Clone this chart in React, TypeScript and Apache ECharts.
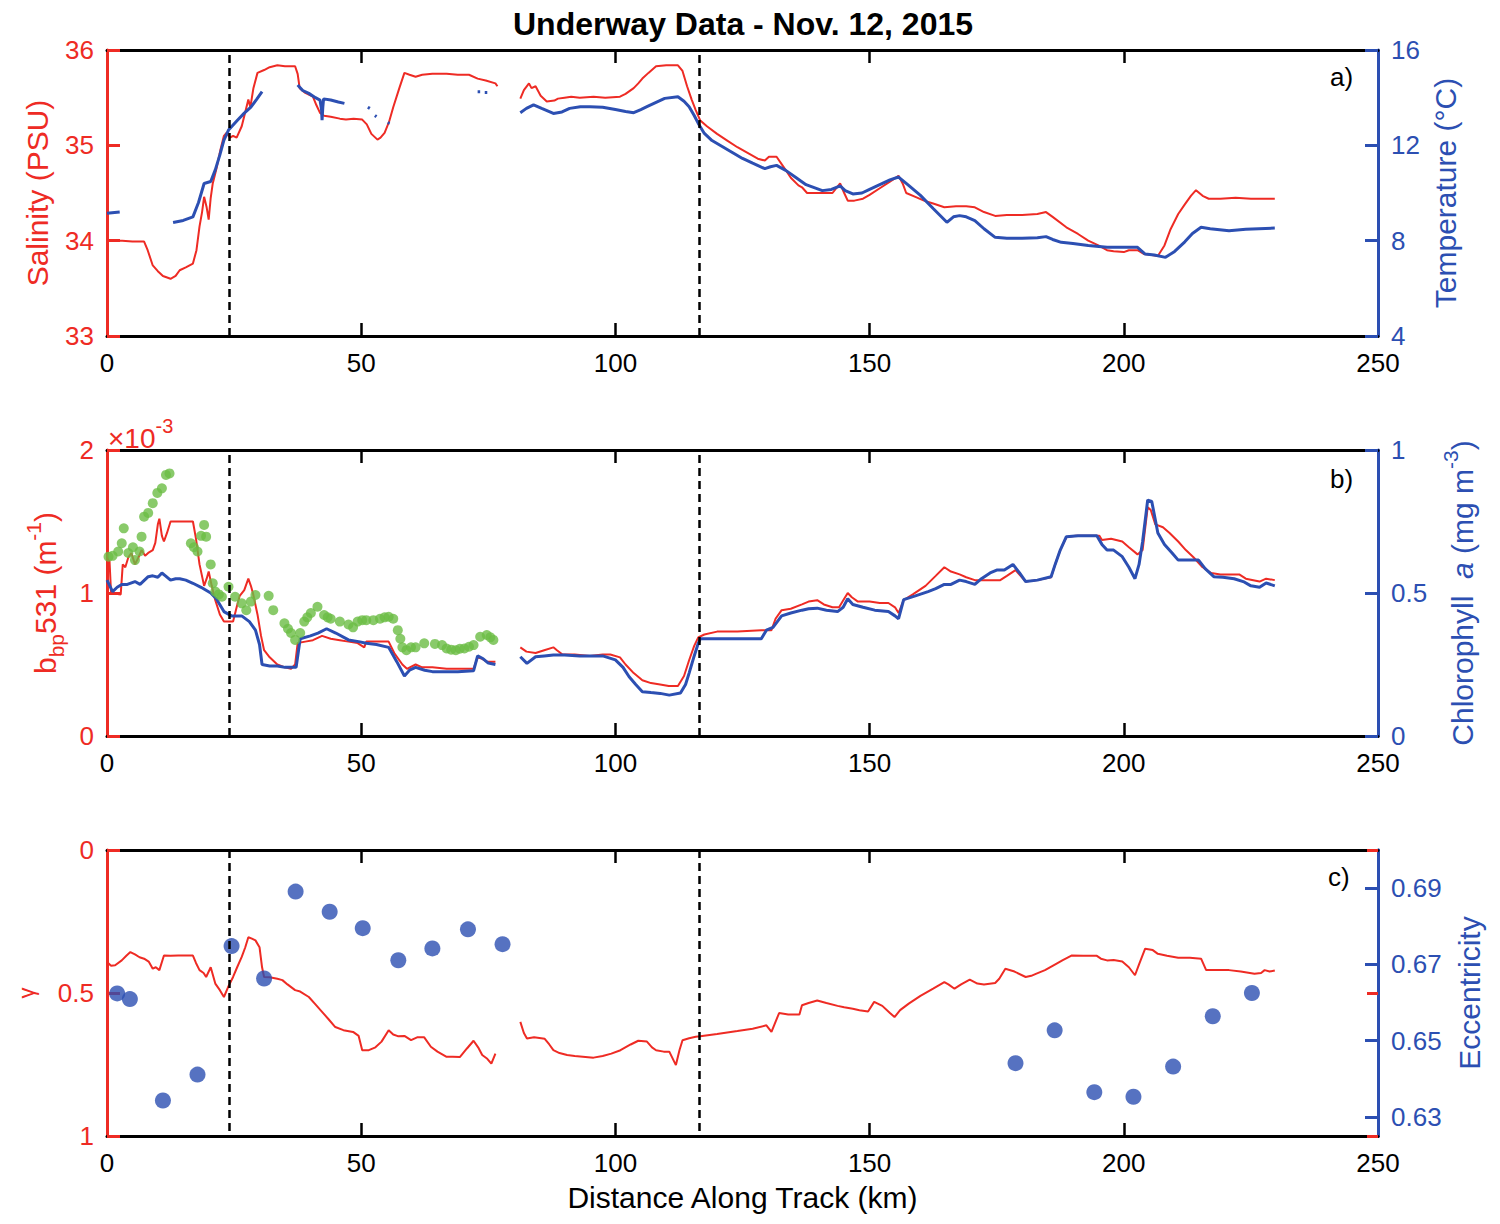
import React, { useEffect, useRef } from "react";
import * as echarts from "echarts";

type P = [number, number] | null;

const FONT = "'Liberation Sans', Arial, Helvetica, sans-serif";
const RED = "#ee2b24";
const BLUE = "#2c4fb2";
const GREEN = "#6cbd45";

const TITLE = "Underway Data - Nov. 12, 2015";
const X_TICKS = [0, 50, 100, 150, 200, 250];
const X_INNER_TICKS = [50, 100, 150, 200];
const SECTION_LINES = [24, 116.5];
const ECC_TICKS = [0.63, 0.65, 0.67, 0.69];
const GAMMA_TICKS = [0, 0.5, 1];

// Panel a: salinity (PSU)
const salinity: P[] = [
  [0, 34.01], [1, 34.0], [3, 34.0], [5, 33.99], [7.3, 33.99], [8, 33.9], [9, 33.74], [10, 33.68], [11, 33.63],
  [12.5, 33.6], [13.5, 33.63], [14.3, 33.69], [15.5, 33.72], [16.9, 33.76], [17.6, 33.9], [18.2, 34.15], [18.7, 34.3],
  [19.1, 34.46], [19.6, 34.35], [20, 34.22], [20.4, 34.45], [20.8, 34.6], [21.5, 34.75], [22.3, 34.95], [23, 35.1],
  [23.5, 35.13], [24.2, 35.08], [24.8, 35.1], [25.5, 35.08], [26.5, 35.2], [27.2, 35.35], [27.8, 35.48], [28.2, 35.4],
  [28.8, 35.6], [29.6, 35.76], [30.9, 35.79], [32, 35.82], [33.5, 35.84], [35, 35.83], [37, 35.83], [37.5, 35.75],
  [37.9, 35.6], [39, 35.55], [40.5, 35.51], [41.2, 35.42], [41.9, 35.34], [42.7, 35.31], [44, 35.3], [45.8, 35.28],
  [47, 35.27], [48.5, 35.28], [50.2, 35.27], [51.1, 35.22], [52, 35.12], [53.2, 35.06], [53.8, 35.08], [54.6, 35.13],
  [55.5, 35.25], [56.3, 35.4], [57.5, 35.6], [58.5, 35.76], [59.5, 35.74], [60.7, 35.72], [62, 35.74], [64, 35.75],
  [66.8, 35.75], [69, 35.74], [71.2, 35.74], [72.9, 35.7], [74.5, 35.68], [76.4, 35.65], [76.8, 35.62],
  null,
  [81.3, 35.49], [82, 35.58], [83, 35.65], [83.5, 35.6], [84.3, 35.62], [85.3, 35.52], [86.5, 35.46], [88, 35.47],
  [88.7, 35.49], [90, 35.5], [91.3, 35.51], [93, 35.5], [95.7, 35.51], [98, 35.5], [100.9, 35.51], [102, 35.54],
  [103.6, 35.6], [104.5, 35.65], [105.3, 35.7], [106.5, 35.76], [108, 35.83], [110, 35.84], [112.3, 35.84],
  [113.2, 35.78], [114.1, 35.62], [115, 35.48], [115.8, 35.37], [116.7, 35.26], [118, 35.2], [120, 35.12],
  [122, 35.05], [124, 34.98], [126, 34.92], [128, 34.86], [129.4, 34.84], [130.2, 34.88], [131.7, 34.88],
  [133, 34.78], [134.5, 34.66], [136, 34.58], [136.7, 34.56], [137.7, 34.5], [140, 34.5], [142.7, 34.5],
  [144.2, 34.6], [145, 34.5], [145.7, 34.42], [147, 34.42], [148.7, 34.44], [150, 34.48], [152, 34.55],
  [154, 34.62], [155.7, 34.68], [156.5, 34.6], [157.2, 34.5], [159, 34.46], [160.7, 34.42], [162.5, 34.39],
  [164.7, 34.35], [167, 34.36], [169, 34.36], [170.7, 34.35], [172.5, 34.3], [174.7, 34.26], [177, 34.27],
  [180, 34.27], [183, 34.28], [184.7, 34.3], [186, 34.25], [188.7, 34.14], [191, 34.07], [193, 34.0],
  [195, 33.95], [196.7, 33.9], [198, 33.89], [200, 33.88], [201, 33.9], [202.7, 33.9], [204, 33.86],
  [205.5, 33.85], [206.7, 33.84], [208, 33.95], [209.2, 34.12], [210.7, 34.28], [212, 34.38], [213.2, 34.47],
  [214.2, 34.53], [215.5, 34.47], [216.7, 34.44], [219, 34.44], [222, 34.45], [225, 34.44], [229.7, 34.44],
];

// Panel a: temperature (°C)
const temperature: P[] = [
  [0, 9.15], [1.5, 9.18], [2.5, 9.2],
  null,
  [13, 8.76], [15, 8.85], [16.9, 9.0], [18, 9.6], [19.1, 10.4], [20.4, 10.48], [21.3, 10.97], [22.2, 11.6],
  [23, 12.22], [23.9, 12.64], [24.8, 12.85], [25.7, 13.06], [27, 13.35], [28.3, 13.6], [29.5, 13.95], [30.5, 14.25],
  null,
  [37.5, 14.53], [38.5, 14.3], [39.7, 14.18], [41, 14.0], [41.9, 13.9], [42.2, 13.5], [42.3, 13.06], [42.45, 13.6],
  [42.6, 13.95], [44, 13.9], [45.5, 13.82], [46.7, 13.76],
  null,
  [51.3, 13.6], [51.7, 13.55],
  null,
  [52.7, 13.25], [53.0, 13.2],
  null,
  [55.2, 12.95], [55.6, 12.92],
  null,
  [72.9, 14.25], [73.4, 14.25],
  null,
  [74.3, 14.22], [74.8, 14.22],
  null,
  [81.3, 13.37], [82.5, 13.55], [83.9, 13.7], [85.5, 13.55], [87.8, 13.34], [89.5, 13.4], [91, 13.55],
  [93.1, 13.62], [95, 13.62], [97.5, 13.6], [100, 13.5], [102, 13.42], [103.6, 13.37], [105, 13.5],
  [106.2, 13.62], [108, 13.8], [109.7, 13.97], [112.3, 14.04], [113.5, 13.85], [114.5, 13.62], [115.5, 13.25],
  [116.3, 12.92], [117.5, 12.5], [119, 12.2], [121, 11.95], [123, 11.7], [125, 11.45], [127, 11.25],
  [129.4, 11.02], [130.5, 11.1], [131.7, 11.16], [133.5, 10.95], [135.5, 10.65], [137.5, 10.35], [140.7, 10.1],
  [142.5, 10.15], [144.2, 10.3], [145.2, 10.1], [146.7, 9.96], [148.5, 10.0], [150, 10.15], [152, 10.35],
  [154, 10.55], [155.7, 10.67], [157.5, 10.35], [160, 9.9], [162.5, 9.35], [165.2, 8.77], [166.5, 9.0],
  [167.7, 9.05], [169, 9.0], [170.7, 8.84], [172.5, 8.5], [174.7, 8.14], [177, 8.1], [180, 8.1], [183, 8.12],
  [184.7, 8.17], [186, 8.05], [187.7, 7.93], [190, 7.88], [193, 7.8], [196.7, 7.72], [199, 7.72],
  [202.7, 7.72], [204.2, 7.44], [206, 7.4], [208.2, 7.3], [210, 7.55], [212, 7.95], [213.5, 8.3],
  [215.2, 8.56], [217, 8.5], [220.7, 8.42], [224, 8.48], [229.7, 8.53],
];

// Panel b: bbp531 (m^-1), stored in units of 1e-3
const bbp: P[] = [
  [0, 1.25], [0.5, 1.22], [0.8, 1.0], [2.7, 0.99], [3.1, 1.2], [3.6, 1.18], [4.2, 1.25], [4.8, 1.28], [5.5, 1.2],
  [6.2, 1.25], [6.8, 1.3], [7.5, 1.26], [8.1, 1.28], [9, 1.3], [9.5, 1.35], [10, 1.48], [10.3, 1.52], [10.8, 1.4],
  [11.2, 1.36], [11.8, 1.42], [12.5, 1.5], [14, 1.5], [16.9, 1.5], [17.5, 1.38], [18.2, 1.2], [19.1, 1.05],
  [19.6, 1.1], [20, 1.15], [20.6, 1.05], [21.3, 0.95], [22.2, 0.85], [23, 0.8], [24.8, 0.8], [25.5, 0.9],
  [26.1, 0.98], [27, 1.02], [27.8, 1.1], [28.3, 1.05], [28.7, 1.0], [29.6, 0.85], [30.3, 0.7], [30.9, 0.6],
  [32, 0.55], [33.5, 0.5], [35, 0.48], [36.2, 0.47], [37, 0.5], [37.5, 0.65], [39, 0.66], [40.5, 0.67],
  [42.3, 0.7], [44, 0.68], [45.8, 0.67], [47.5, 0.66], [49.3, 0.65], [50.6, 0.62], [51, 0.66], [53, 0.66],
  [55.4, 0.66], [56.5, 0.58], [58.1, 0.5], [59, 0.47], [60.7, 0.5], [62, 0.48], [64, 0.48], [66.8, 0.47],
  [69, 0.47], [72.1, 0.47], [72.9, 0.55], [73.8, 0.54], [74.7, 0.52], [76.4, 0.52],
  null,
  [81.3, 0.62], [82.5, 0.59], [84.3, 0.58], [86, 0.6], [87.8, 0.62], [88.5, 0.6], [89.6, 0.57], [92, 0.57],
  [95, 0.56], [97.5, 0.57], [99, 0.57], [100.9, 0.55], [102, 0.5], [103.6, 0.44], [105.3, 0.39], [107, 0.37],
  [108.8, 0.36], [110.5, 0.35], [112.3, 0.35], [113.5, 0.42], [114.5, 0.53], [115.5, 0.63], [116.3, 0.69],
  [117.5, 0.71], [120, 0.73], [124, 0.73], [128.7, 0.74], [130.7, 0.74], [131.5, 0.82], [132.7, 0.88],
  [134.5, 0.89], [136.7, 0.92], [138, 0.94], [139.7, 0.95], [141, 0.92], [142.7, 0.9], [144, 0.9], [145, 0.96],
  [145.7, 1.0], [146.5, 0.97], [147.7, 0.94], [150, 0.94], [152, 0.93], [153.7, 0.93], [155, 0.9],
  [155.7, 0.86], [156.7, 0.95], [158.5, 0.99], [161, 1.05], [163, 1.12], [164.7, 1.18], [166, 1.15],
  [167.7, 1.13], [169, 1.11], [170.7, 1.09], [173, 1.09], [175.7, 1.09], [177, 1.12], [178.7, 1.16],
  [179.7, 1.12], [180.7, 1.08], [183, 1.09], [185.7, 1.11], [186.5, 1.2], [187.5, 1.3], [188.7, 1.39],
  [190.5, 1.4], [192.7, 1.4], [195.2, 1.4], [195.7, 1.37], [197.5, 1.38], [199.7, 1.36], [201, 1.32],
  [202.7, 1.27], [203.7, 1.3], [204.7, 1.6], [205.3, 1.58], [206.2, 1.48], [207.7, 1.46], [209, 1.42],
  [210.7, 1.36], [212.2, 1.3], [213.7, 1.25], [215.5, 1.18], [217.2, 1.14], [219, 1.13], [222.7, 1.13],
  [224, 1.1], [226.7, 1.08], [228, 1.1], [229.7, 1.09],
];

// Panel b: chlorophyll a (mg m^-3)
const chlorophyll: P[] = [
  [0, 0.545], [1.1, 0.505], [2, 0.52], [2.9, 0.53], [4, 0.53], [5.5, 0.54], [6.5, 0.53], [8.1, 0.557], [9, 0.56],
  [10, 0.555], [10.8, 0.57], [11.5, 0.56], [12.5, 0.545], [13.5, 0.55], [14.3, 0.55], [15.5, 0.545],
  [16.9, 0.534], [18.5, 0.52], [20.4, 0.5], [21.5, 0.48], [23, 0.435], [24.5, 0.42], [26.5, 0.42], [28, 0.4],
  [29.2, 0.37], [30, 0.32], [30.5, 0.25], [32, 0.245], [33.5, 0.245], [35, 0.24], [37.2, 0.24], [38, 0.34],
  [40, 0.35], [41.5, 0.36], [43.2, 0.375], [45, 0.36], [47.5, 0.336], [49.5, 0.33], [51, 0.324], [53, 0.32],
  [55.4, 0.31], [57, 0.26], [58.5, 0.21], [59.5, 0.23], [60.7, 0.24], [62.5, 0.23], [64, 0.225], [66.8, 0.225],
  [69, 0.225], [72.1, 0.228], [72.9, 0.28], [74, 0.27], [75, 0.255], [76.4, 0.25],
  null,
  [81.3, 0.277], [82.6, 0.254], [84.3, 0.277], [86, 0.28], [87.8, 0.283], [90, 0.283], [93, 0.28], [95, 0.28],
  [97.5, 0.28], [100, 0.266], [101.5, 0.24], [102.7, 0.207], [104, 0.18], [105.3, 0.155], [107, 0.152],
  [108.8, 0.149], [110.6, 0.143], [112.8, 0.15], [113.8, 0.18], [114.5, 0.22], [115.5, 0.28], [116.3, 0.324],
  [116.7, 0.34], [120, 0.34], [124, 0.34], [128.7, 0.34], [129.7, 0.37], [131, 0.38], [132.7, 0.42],
  [134.5, 0.43], [136.7, 0.44], [138, 0.445], [139.7, 0.447], [141.5, 0.44], [143.7, 0.435], [144.8, 0.45],
  [145.7, 0.48], [146.7, 0.46], [148.7, 0.45], [151, 0.44], [153.7, 0.435], [155, 0.42], [155.7, 0.41],
  [156.7, 0.477], [159, 0.49], [161.5, 0.505], [163, 0.515], [164.7, 0.53], [166, 0.53], [167.7, 0.545],
  [169, 0.54], [170.7, 0.53], [172, 0.55], [173.7, 0.57], [175, 0.58], [176.5, 0.58], [178.2, 0.6],
  [179.5, 0.57], [180.7, 0.54], [183, 0.545], [185.7, 0.557], [186.5, 0.6], [187.5, 0.65], [188.7, 0.697],
  [191, 0.7], [194.7, 0.7], [195.7, 0.67], [196.7, 0.65], [198, 0.65], [199.7, 0.627], [201, 0.59],
  [202.2, 0.55], [203, 0.6], [203.7, 0.68], [204.7, 0.825], [205.5, 0.82], [206.7, 0.71], [208, 0.67],
  [209.5, 0.64], [210.7, 0.615], [212.5, 0.615], [214.7, 0.615], [216, 0.585], [217.7, 0.557], [219.5, 0.555],
  [221.7, 0.55], [223.5, 0.54], [225, 0.525], [226.7, 0.52], [228, 0.535], [229.7, 0.525],
];

// Panel b: green discrete samples (chlorophyll axis)
const greenSamples: [number, number][] = [
  [0.3, 0.627], [1.1, 0.63], [2.2, 0.645], [2.9, 0.674], [3.3, 0.726], [4.2, 0.64], [5.1, 0.66], [5.5, 0.615],
  [6.4, 0.645], [6.8, 0.697], [7.3, 0.767], [8.1, 0.78], [9, 0.814], [9.9, 0.85], [10.8, 0.866], [11.6, 0.913],
  [12.3, 0.918], [16.5, 0.674], [17.1, 0.66], [17.8, 0.645], [18.5, 0.7], [19.1, 0.738], [19.5, 0.697],
  [20.4, 0.6], [20.8, 0.534], [21.3, 0.505], [22, 0.495], [22.6, 0.487], [23.9, 0.522], [25.2, 0.487],
  [26.5, 0.464], [27.4, 0.44], [28.3, 0.47], [29.2, 0.493], [31.8, 0.49], [32.7, 0.44], [34.9, 0.394],
  [35.6, 0.375], [36.2, 0.36], [37, 0.336], [38, 0.36], [38.8, 0.4], [39.4, 0.415], [40.1, 0.43],
  [41.4, 0.452], [42.7, 0.423], [43.4, 0.415], [44, 0.41], [45.8, 0.4], [47.5, 0.39], [48.4, 0.38],
  [49.3, 0.4], [50.2, 0.405], [51, 0.405], [52.4, 0.405], [53.7, 0.41], [54.6, 0.415], [55.4, 0.417],
  [56.3, 0.41], [57.2, 0.37], [57.7, 0.34], [58.1, 0.31], [58.9, 0.3], [59.8, 0.31], [60.7, 0.31],
  [62.4, 0.324], [64.5, 0.322], [65.9, 0.318], [66.8, 0.306], [67.7, 0.302], [68.6, 0.3], [69.4, 0.305],
  [70.3, 0.306], [71.2, 0.312], [72.1, 0.318], [73.4, 0.347], [74.7, 0.353], [75.4, 0.345], [76, 0.336],
];

// Panel c: gamma (inverted axis)
const gamma: P[] = [
  [0, 0.392], [0.8, 0.405], [1.6, 0.403], [2.9, 0.386], [3.8, 0.37], [4.6, 0.357], [5.5, 0.365], [6.4, 0.375],
  [7.3, 0.38], [8.2, 0.39], [9, 0.415], [9.6, 0.41], [10.3, 0.42], [11.2, 0.369], [12.5, 0.37], [14, 0.369],
  [15.5, 0.369], [16.9, 0.369], [17.5, 0.395], [18.2, 0.42], [19, 0.43], [19.5, 0.444], [20.4, 0.41],
  [21.3, 0.467], [22.2, 0.49], [23, 0.514], [23.8, 0.48], [24.8, 0.444], [25.6, 0.41], [26.5, 0.374],
  [27.2, 0.34], [27.8, 0.305], [28.5, 0.31], [29.2, 0.316], [30, 0.34], [30.5, 0.41], [30.9, 0.444],
  [32, 0.445], [33.5, 0.45], [34.5, 0.455], [35.5, 0.47], [37, 0.49], [38, 0.495], [39.7, 0.514], [41, 0.54],
  [42.3, 0.566], [43.5, 0.59], [44.9, 0.619], [46.5, 0.63], [48.4, 0.636], [49.5, 0.65], [50.2, 0.7],
  [51.5, 0.7], [52.8, 0.69], [54, 0.67], [55.4, 0.63], [56.3, 0.645], [57.2, 0.651], [58.5, 0.65],
  [59.8, 0.665], [61, 0.655], [62.4, 0.655], [63.7, 0.688], [65, 0.705], [66.8, 0.723], [68, 0.723],
  [69.4, 0.724], [70.8, 0.694], [72.1, 0.667], [73, 0.69], [73.8, 0.717], [74.8, 0.73], [75.6, 0.747],
  [76.4, 0.712],
  null,
  [81.3, 0.601], [82, 0.64], [82.6, 0.659], [84, 0.655], [86.1, 0.66], [87, 0.68], [87.8, 0.7], [89, 0.71],
  [90.5, 0.717], [92, 0.72], [95.7, 0.726], [97.5, 0.72], [99.2, 0.712], [101, 0.7], [103, 0.68],
  [104.5, 0.667], [106.2, 0.67], [107.2, 0.69], [108, 0.7], [109.5, 0.705], [110.6, 0.705], [111.9, 0.752],
  [112.6, 0.7], [113.2, 0.665], [114.5, 0.658], [115.8, 0.653], [116.7, 0.651], [120, 0.643], [124, 0.633],
  [127, 0.625], [129.7, 0.613], [130.7, 0.636], [132.2, 0.57], [134, 0.575], [136.2, 0.575], [136.7, 0.543],
  [138, 0.535], [139.7, 0.526], [141.5, 0.535], [143.7, 0.545], [145, 0.55], [146.7, 0.555], [148, 0.56],
  [149.7, 0.565], [150.9, 0.531], [152.5, 0.545], [154, 0.57], [154.9, 0.584], [156, 0.56], [157.7, 0.537],
  [160, 0.51], [162.5, 0.485], [164.7, 0.462], [165.5, 0.47], [166.7, 0.485], [168, 0.47], [169.7, 0.453],
  [171.2, 0.467], [172.5, 0.47], [174.7, 0.465], [175.5, 0.45], [176.7, 0.415], [178.5, 0.425],
  [180.7, 0.444], [181.8, 0.44], [182.7, 0.433], [184.5, 0.42], [186.7, 0.398], [188, 0.385], [189.7, 0.369],
  [192, 0.37], [194.7, 0.37], [195.5, 0.38], [196.7, 0.386], [198, 0.385], [199.7, 0.39], [201, 0.41],
  [202.2, 0.438], [203, 0.4], [204.2, 0.345], [205.7, 0.35], [206.7, 0.363], [208.5, 0.37], [210.7, 0.377],
  [213, 0.377], [215.2, 0.38], [216.2, 0.42], [218, 0.42], [220.7, 0.42], [223, 0.425], [225.7, 0.433],
  [227, 0.43], [227.7, 0.42], [228.7, 0.425], [229.7, 0.421],
];

// Panel c: eccentricity
const eccentricity: [number, number][] = [
  [2, 0.6624], [4.5, 0.6609], [11, 0.6343], [17.8, 0.6411], [24.5, 0.6748], [30.9, 0.6663], [37.1, 0.6891],
  [43.8, 0.6838], [50.3, 0.6795], [57.3, 0.6711], [64, 0.6742], [71, 0.6792], [77.8, 0.6753],
  [178.7, 0.6441], [186.4, 0.6527], [194.2, 0.6365], [201.9, 0.6353], [209.7, 0.6432], [217.5, 0.6564],
  [225.2, 0.6625],
];

function splitSegments(data: P[]): [number, number][][] {
  const out: [number, number][][] = [];
  let cur: [number, number][] = [];
  for (const p of data) {
    if (p === null) {
      if (cur.length) out.push(cur);
      cur = [];
    } else cur.push(p);
  }
  if (cur.length) out.push(cur);
  return out;
}

const GRID_TOPS = [50, 450, 850];
const GRID_H = 286;
const GRID_LEFT = 107;
const GRID_RIGHT = 122;

function xAxes(g: number, last: boolean): any[] {
  const common = {
    type: "value",
    gridIndex: g,
    min: X_TICKS[0],
    max: X_TICKS[X_TICKS.length - 1],
    interval: 50,
    splitLine: { show: false },
    axisLine: { show: true, onZero: false, lineStyle: { color: "#000", width: 3 } },
    axisTick: { show: true, inside: true, length: 13, customValues: X_INNER_TICKS, lineStyle: { color: "#000", width: 2.5 } },
  };
  return [
    {
      ...common,
      position: "bottom",
      axisLabel: { show: true, fontSize: 26, color: "#000", margin: 14, fontFamily: FONT },
      name: last ? "Distance Along Track (km)" : "",
      nameLocation: "middle",
      nameGap: 46,
      nameTextStyle: { fontSize: 30, color: "#000", fontFamily: FONT },
    },
    { ...common, position: "top", axisLabel: { show: false } },
  ];
}

function yAxis(g: number, pos: "left" | "right", color: string, extra: any): any {
  return {
    type: "value",
    gridIndex: g,
    position: pos,
    splitLine: { show: false },
    axisLine: { show: true, onZero: false, lineStyle: { color, width: 3 } },
    axisTick: { show: true, inside: true, length: 13, lineStyle: { color, width: 3 } },
    axisLabel: { color, fontSize: 26, margin: 13, fontFamily: FONT },
    nameLocation: "middle",
    nameTextStyle: { color, fontSize: 30, fontFamily: FONT },
    ...extra,
  };
}

function lineSeries(data: P[], xi: number, yi: number, color: string, width: number, name: string, z: number, withMarks: boolean): any[] {
  return splitSegments(data).map((seg, k) => {
    const s: any = {
      type: "line",
      name,
      xAxisIndex: xi,
      yAxisIndex: yi,
      data: seg,
      symbol: "none",
      showSymbol: false,
      silent: true,
      z,
      lineStyle: { color, width },
      itemStyle: { color },
    };
    if (withMarks && k === 0) {
      s.markLine = {
        silent: true,
        symbol: ["none", "none"],
        label: { show: false },
        lineStyle: { color: "#000", width: 2.5, type: [8, 5] },
        data: SECTION_LINES.map((v) => ({ xAxis: v })),
      };
    }
    return s;
  });
}

function buildOption(): any {
  const grids = GRID_TOPS.map((t) => ({ left: GRID_LEFT, right: GRID_RIGHT, top: t, height: GRID_H, containLabel: false }));
  const xs = [...xAxes(0, false), ...xAxes(1, false), ...xAxes(2, true)];
  const ys = [
    yAxis(0, "left", RED, { min: 33, max: 36, interval: 1, name: "Salinity (PSU)", nameGap: 55 }),
    yAxis(0, "right", BLUE, { min: 4, max: 16, interval: 4, name: "Temperature (°C)", nameGap: 48 }),
    yAxis(1, "left", RED, {
      min: 0,
      max: 0.002,
      interval: 0.001,
      axisLabel: { color: RED, fontSize: 26, margin: 13, fontFamily: FONT, formatter: (v: number) => String(Math.round(v * 1000)) },
      name: "{m|b}{sub|bp}{m|531 (m}{sup|-1}{m|)}",
      nameGap: 40,
      nameTextStyle: {
        color: RED,
        fontFamily: FONT,
        rich: {
          m: { fontSize: 30, color: RED, fontFamily: FONT, lineHeight: 44 },
          sub: { fontSize: 21, color: RED, fontFamily: FONT, lineHeight: 44, verticalAlign: "bottom" },
          sup: { fontSize: 21, color: RED, fontFamily: FONT, lineHeight: 44, verticalAlign: "top" },
        },
      },
    }),
    yAxis(1, "right", BLUE, {
      min: 0,
      max: 1,
      interval: 0.5,
      name: "{m|Chlorophyll  }{i|a}{m| (mg m}{sup|-3}{m|)}",
      nameGap: 62,
      nameTextStyle: {
        color: BLUE,
        fontFamily: FONT,
        rich: {
          m: { fontSize: 30, color: BLUE, fontFamily: FONT, lineHeight: 44 },
          i: { fontSize: 30, color: BLUE, fontFamily: FONT, fontStyle: "italic", lineHeight: 44 },
          sup: { fontSize: 21, color: BLUE, fontFamily: FONT, lineHeight: 44, verticalAlign: "top" },
        },
      },
    }),
    yAxis(2, "left", RED, { min: 0, max: 1, interval: 0.5, inverse: true, name: "γ", nameGap: 70, nameTextStyle: { color: RED, fontSize: 22, fontFamily: FONT } }),
    yAxis(2, "right", BLUE, {
      min: 0.625,
      max: 0.7,
      axisTick: { show: true, inside: true, length: 13, customValues: ECC_TICKS, lineStyle: { color: BLUE, width: 3 } },
      axisLabel: { color: BLUE, fontSize: 26, margin: 13, fontFamily: FONT, customValues: ECC_TICKS, formatter: (v: number) => v.toFixed(2) },
      name: "Eccentricity",
      nameGap: 76,
    }),
    {
      type: "value",
      gridIndex: 2,
      position: "right",
      min: 0,
      max: 1,
      interval: 0.5,
      inverse: true,
      splitLine: { show: false },
      axisLine: { show: true, onZero: false, lineStyle: { color: BLUE, width: 3 } },
      axisLabel: { show: false },
      axisTick: { show: true, inside: true, length: 11, customValues: GAMMA_TICKS, lineStyle: { color: RED, width: 3 } },
    },
  ];

  const bbpValues: P[] = bbp.map((p) => (p === null ? null : [p[0], p[1] / 1000]));

  const series: any[] = [
    ...lineSeries(salinity, 0, 0, RED, 2, "Salinity", 2, true),
    ...lineSeries(temperature, 0, 1, BLUE, 3, "Temperature", 3, false),
    ...lineSeries(bbpValues, 2, 2, RED, 2, "bbp531", 2, true),
    ...lineSeries(chlorophyll, 2, 3, BLUE, 3, "Chlorophyll a", 3, false),
    {
      type: "scatter",
      name: "Chlorophyll samples",
      xAxisIndex: 2,
      yAxisIndex: 3,
      data: greenSamples,
      symbol: "circle",
      symbolSize: 10,
      silent: true,
      z: 4,
      itemStyle: { color: GREEN },
    },
    ...lineSeries(gamma, 4, 4, RED, 2, "gamma", 2, true),
    {
      type: "scatter",
      name: "Eccentricity",
      xAxisIndex: 4,
      yAxisIndex: 5,
      data: eccentricity,
      symbol: "circle",
      symbolSize: 16,
      silent: true,
      z: 4,
      itemStyle: { color: BLUE },
    },
    {
      type: "line",
      name: "gamma-right",
      xAxisIndex: 4,
      yAxisIndex: 6,
      data: [],
      symbol: "none",
      silent: true,
    },
  ];

  const panelLabel = (t: string, x: number, y: number) => ({
    type: "text",
    x,
    y,
    silent: true,
    style: { text: t, fontSize: 26, fill: "#000", fontFamily: FONT, textAlign: "left", textVerticalAlign: "top" },
  });

  return {
    animation: false,
    backgroundColor: "#fff",
    textStyle: { fontFamily: FONT },
    grid: grids,
    xAxis: xs,
    yAxis: ys,
    series,
    graphic: [
      {
        type: "text",
        x: 743,
        y: 8,
        silent: true,
        style: { text: TITLE, fontSize: 32, fontWeight: "bold", fill: "#000", fontFamily: FONT, textAlign: "center", textVerticalAlign: "top" },
      },
      panelLabel("a)", 1330, 64),
      panelLabel("b)", 1330, 466),
      panelLabel("c)", 1328, 864),
      {
        type: "text",
        x: 108,
        y: 416,
        silent: true,
        style: {
          text: "{a|×10}{s|-3}",
          fill: RED,
          fontFamily: FONT,
          textVerticalAlign: "top",
          rich: {
            a: { fontSize: 28, fill: RED, fontFamily: FONT, lineHeight: 36, verticalAlign: "bottom" },
            s: { fontSize: 20, fill: RED, fontFamily: FONT, lineHeight: 36, verticalAlign: "top" },
          },
        },
      },
    ],
  };
}

export default function App() {
  const ref = useRef<HTMLDivElement>(null);
  useEffect(() => {
    document.body.style.margin = "0";
    const chart = echarts.init(ref.current as HTMLDivElement, null, { renderer: "svg" });
    chart.setOption(buildOption());
    return () => chart.dispose();
  }, []);
  return <div ref={ref} style={{ position: "absolute", left: 0, top: 0, width: 1500, height: 1224, background: "#fff" }} />;
}
